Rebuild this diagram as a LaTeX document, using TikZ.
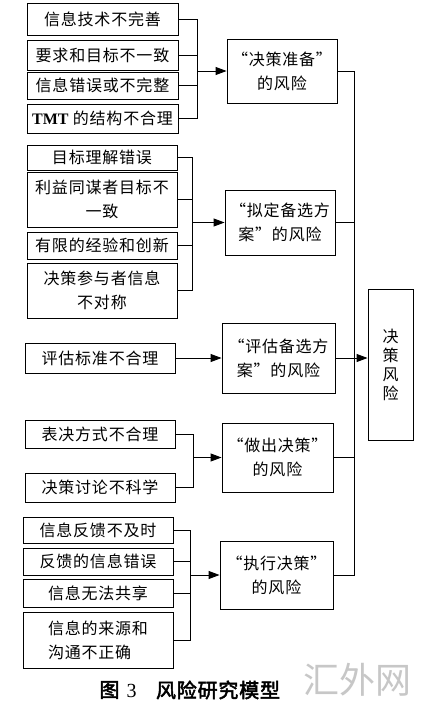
\documentclass[tikz,border=0pt]{standalone}
\usepackage{fontspec}
\newfontfamily\cjk[LetterSpace=5]{Noto Sans CJK SC}
\newfontfamily\cjkcap[LetterSpace=4,FakeBold=2.5]{Noto Sans CJK SC}
\newfontfamily\cjkwm{Noto Sans CJK SC}
\newfontfamily\lat{Liberation Serif}
\usetikzlibrary{arrows.meta}
\begin{document}
\begin{tikzpicture}[x=1pt,y=-1pt,
  box/.style={draw=black, line width=0.9pt, inner sep=0pt, align=center,
    font=\cjk\fontsize{16}{24}\selectfont},
  lbox/.style={box, minimum width=151pt},
  rbox/.style={box, minimum width=111pt},
  wire/.style={line width=0.9pt},
  arr/.style={line width=0.9pt, -{Triangle[length=11pt,width=8pt]}},
]
\useasboundingbox[fill=white] (0,0) rectangle (426,713);

% group 1
\node[lbox, minimum height=32pt] (b11) at (102.5,19) {信息技术不完善};
\node[lbox, minimum height=30pt] (b12) at (102.5,55) {要求和目标不一致};
\node[lbox, minimum height=27pt] (b13) at (102.5,85.5) {信息错误或不完整};
\node[lbox, minimum height=29pt] (b14) at (102.5,118.5) {{\lat\bfseries TMT} 的结构不合理};
\node[rbox, minimum width=110pt, minimum height=64pt] (r1) at (282,71) {“决策准备”\\的风险};
\coordinate (bus1) at (197,0);
\draw[wire] (b11.east) -- (bus1 |- b11.east) -- (bus1 |- b14.east) -- (b14.east);
\draw[wire] (b12.east) -- (bus1 |- b12.east);
\draw[wire] (b13.east) -- (bus1 |- b13.east);
\draw[arr] (bus1 |- r1.west) -- (r1.west);

% group 2
\node[lbox, minimum width=150pt, minimum height=25pt] (b21) at (102,157.5) {目标理解错误};
\node[lbox, minimum width=150pt, minimum height=55pt] (b22) at (102,199.5) {利益同谋者目标不\\一致};
\node[lbox, minimum width=150pt, minimum height=27pt] (b23) at (102,245.5) {有限的经验和创新};
\node[lbox, minimum width=150pt, minimum height=55pt] (b24) at (102,290.5) {决策参与者信息\\不对称};
\node[rbox, minimum width=110pt, minimum height=65pt] (r2) at (280,222.5) {“拟定备选方\\案”的风险};
\coordinate (bus2) at (192,0);
\draw[wire] (b21.east) -- (bus2 |- b21.east) -- (bus2 |- b24.east) -- (b24.east);
\draw[wire] (b22.east) -- (bus2 |- b22.east);
\draw[wire] (b23.east) -- (bus2 |- b23.east);
\draw[arr] (bus2 |- r2.west) -- (r2.west);

% group 3
\node[lbox, minimum width=150pt, minimum height=30pt] (b31) at (100,358) {评估标准不合理};
\node[rbox, minimum width=113pt, minimum height=70pt] (r3) at (278.5,358) {“评估备选方\\案”的风险};
\draw[arr] (b31.east) -- (r3.west);

% group 4
\node[lbox, minimum width=150pt, minimum height=28pt] (b41) at (100,434) {表决方式不合理};
\node[lbox, minimum width=150pt, minimum height=29pt] (b42) at (100,487.5) {决策讨论不科学};
\node[rbox, minimum width=111pt, minimum height=69pt] (r4) at (277.5,457.5) {“做出决策”\\的风险};
\coordinate (bus4) at (193,0);
\draw[wire] (b41.east) -- (bus4 |- b41.east) -- (bus4 |- b42.east) -- (b42.east);
\draw[arr] (bus4 |- r4.west) -- (r4.west);

% group 5
\node[lbox, minimum width=150pt, minimum height=26pt] (b51) at (98,530) {信息反馈不及时};
\node[lbox, minimum width=150pt, minimum height=27pt] (b52) at (98,561.5) {反馈的信息错误};
\node[lbox, minimum width=150pt, minimum height=28pt] (b53) at (98,593) {信息无法共享};
\node[lbox, minimum width=150pt, minimum height=56pt, align=left] (b54) at (98,640) {信息的来源和\\沟通不正确};
\node[rbox, minimum width=113pt, minimum height=68pt] (r5) at (276.5,575) {“执行决策”\\的风险};
\coordinate (bus5) at (190,0);
\draw[wire] (b51.east) -- (bus5 |- b51.east) -- (bus5 |- b54.east) -- (b54.east);
\draw[wire] (b52.east) -- (bus5 |- b52.east);
\draw[wire] (b53.east) -- (bus5 |- b53.east);
\draw[arr] (bus5 |- r5.west) -- (r5.west);

% main
\node[box, minimum width=45pt, minimum height=151pt, font=\cjk\fontsize{16}{19}\selectfont] (main) at (390.5,364.5) {决\\策\\风\\险};
\coordinate (mbus) at (354,0);
\draw[wire] (r1.east) -- (mbus |- r1.east) -- (mbus |- r5.east) -- (r5.east);
\draw[wire] (r2.east) -- (mbus |- r2.east);
\draw[wire] (r4.east) -- (mbus |- r4.east);
\draw[arr] (r3.east) -- (main.west |- r3.east);

% caption
\node[font=\cjkcap\fontsize{20}{24}\selectfont, inner sep=0pt] (cap1) at (118,690) {图\hspace{7pt}{\lat 3}};
\node[font=\cjkcap\fontsize{20}{24}\selectfont, inner sep=0pt] (cap2) at (218,690) {风险研究模型};
\node[font=\cjkwm\fontsize{36}{40}\selectfont, text=black!22, inner sep=0pt] (wm) at (357,680) {汇外网};
\end{tikzpicture}
\end{document}
